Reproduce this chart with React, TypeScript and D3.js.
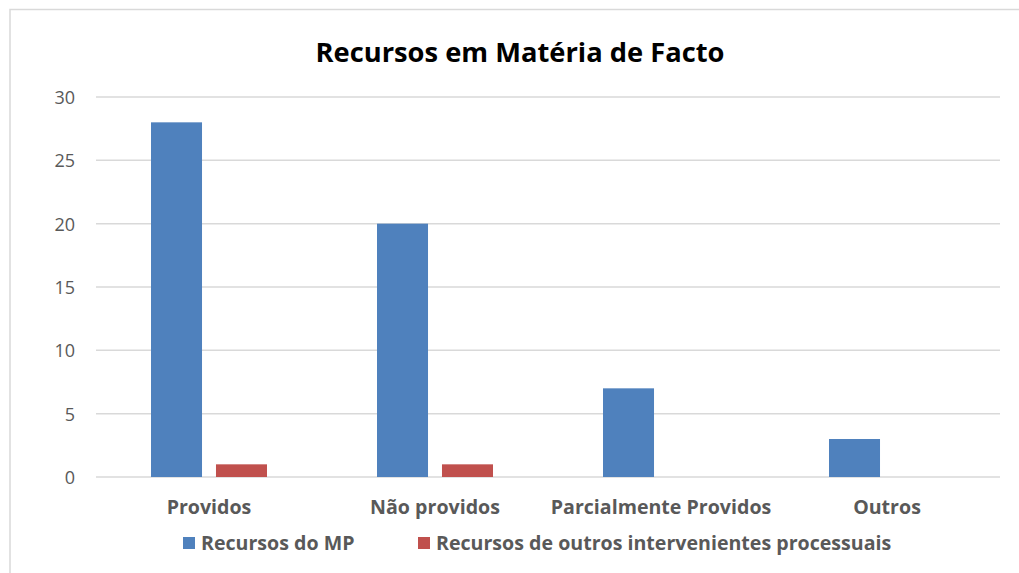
import React from "react";
import * as d3 from "d3";

const categories = ["Providos", "Não providos", "Parcialmente Providos", "Outros"];
const seriesNames = ["Recursos do MP", "Recursos de outros intervenientes processuais"];
const seriesMP = [28, 20, 7, 3];
const seriesOutros = [1, 1, 0, 0];
const yTicks = [0, 5, 10, 15, 20, 25, 30];
const colors = ["#4f81bd", "#c0504d"];

const W = 1019;
const H = 573;
const FONT = "'Open Sans', sans-serif";

export default function App() {
  const x0 = d3.scaleBand<string>().domain(categories).range([96, 1000]).paddingInner(0).paddingOuter(0);
  const x1 = d3.scaleBand<string>().domain(seriesNames).range([0, 116]).paddingInner(0.215).paddingOuter(0);
  const y = d3.scaleLinear().domain([0, 30]).range([477, 97]);
  const data = [seriesMP, seriesOutros];

  return (
    <svg width={W} height={H} style={{ position: "absolute", left: 0, top: 0 }} fontFamily={FONT}>
      <rect x={0} y={0} width={W} height={H} fill="#fff" />
      <rect x={10} y={9.5} width={W + 20} height={H + 20} fill="none" stroke="#d9d9d9" strokeWidth={1.5} />
      <text x={520} y={62} textAnchor="middle" fontSize={27.3} fontWeight="bold" fill="#000">
        Recursos em Matéria de Facto
      </text>
      {yTicks.map((t) => (
        <g key={t}>
          <line x1={96} x2={1000} y1={y(t)} y2={y(t)} stroke="#d9d9d9" strokeWidth={1.5} />
          <text x={75} y={y(t) + 7} textAnchor="end" fontSize={18} fill="#595959">
            {t}
          </text>
        </g>
      ))}
      {categories.map((c, i) => {
        const cx = (x0(c) as number) + x0.bandwidth() / 2;
        const gx = cx - 58;
        return (
          <g key={c}>
            {data.map((s, j) =>
              s[i] > 0 ? (
                <rect
                  key={j}
                  x={gx + (x1(seriesNames[j]) as number)}
                  y={y(s[i])}
                  width={x1.bandwidth()}
                  height={y(0) - y(s[i])}
                  fill={colors[j]}
                />
              ) : null
            )}
            <text x={cx} y={514} textAnchor="middle" fontSize={19.6} fontWeight="bold" fill="#595959">
              {c}
            </text>
          </g>
        );
      })}
      <g>
        <rect x={183} y={537} width={12} height={12} fill={colors[0]} />
        <text x={201} y={550} fontSize={19.6} fontWeight="bold" fill="#595959">
          {seriesNames[0]}
        </text>
        <rect x={418} y={537} width={12} height={12} fill={colors[1]} />
        <text x={436} y={550} fontSize={19.6} fontWeight="bold" fill="#595959">
          {seriesNames[1]}
        </text>
      </g>
    </svg>
  );
}
